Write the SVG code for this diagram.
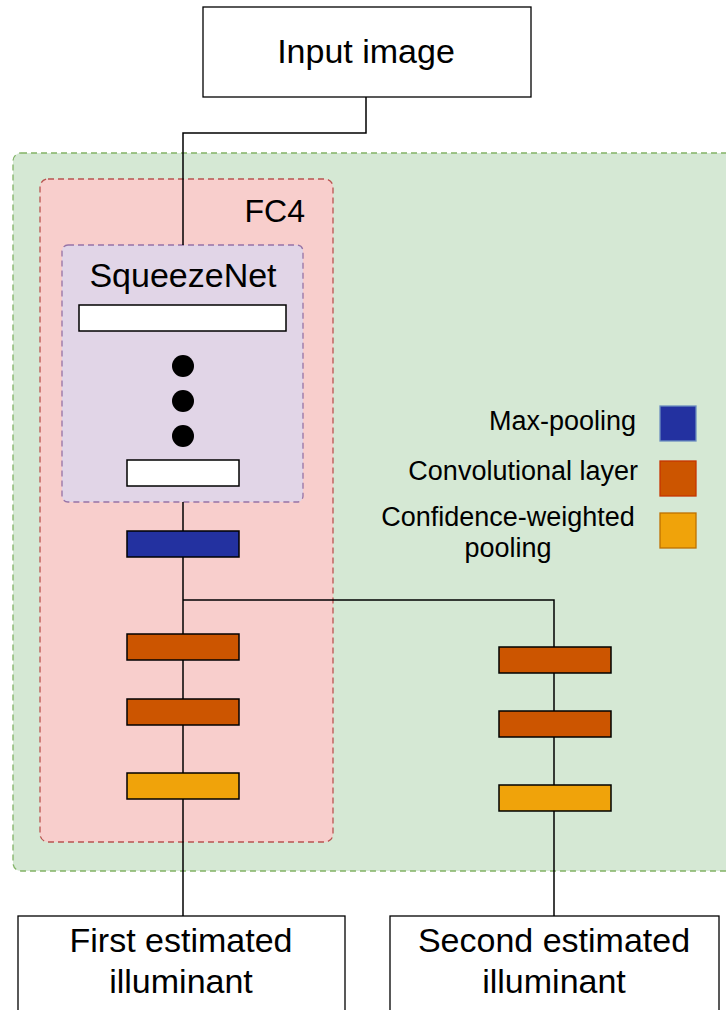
<svg xmlns="http://www.w3.org/2000/svg" width="726" height="1010" viewBox="0 0 726 1010">
<style>
text{font-family:"Liberation Sans",Arial,sans-serif;fill:#000}
.big{font-size:34px;text-anchor:middle}
.leg{font-size:27px}
.box{fill:#fff;stroke:#000;stroke-width:1.3}
.layer{stroke:#000;stroke-width:1.5}
.conn{fill:none;stroke:#000;stroke-width:1.5}
.dash{stroke-width:1.3;stroke-dasharray:6 4}
</style>
<rect width="726" height="1010" fill="#fff"/>
<g id="green-area"><rect x="13" y="153" width="730" height="718" rx="8" fill="#d5e8d4" stroke="#82b366" class="dash"/></g>
<g id="fc4"><rect x="40" y="179" width="293" height="663" rx="8" fill="#f8cecc" stroke="#b85450" class="dash"/><text x="305" y="222" font-size="32" text-anchor="end">FC4</text></g>
<g id="squeezenet"><rect x="62" y="245" width="241" height="257" rx="6" fill="#e1d5e7" stroke="#9673a6" class="dash"/><text x="183" y="287" class="big">SqueezeNet</text></g>
<g id="connectors">
<path class="conn" d="M366 97V133H183V245"/>
<path class="conn" d="M183 502V531"/>
<path class="conn" d="M183 557V634"/>
<path class="conn" d="M183 600H554V647"/>
<path class="conn" d="M183 660V699"/>
<path class="conn" d="M183 725V773"/>
<path class="conn" d="M183 799V916"/>
<path class="conn" d="M554 673V711"/>
<path class="conn" d="M554 737V785"/>
<path class="conn" d="M554 811V916"/>
</g>
<g id="input-image"><rect x="203" y="7" width="328" height="90" class="box"/><text x="366" y="63" class="big">Input image</text></g>
<g id="sq-layer1"><rect x="79" y="305" width="207" height="26" class="layer" fill="#fff"/></g>
<g id="dots"><circle cx="183" cy="366" r="11"/><circle cx="183" cy="401" r="11"/><circle cx="183" cy="436" r="11"/></g>
<g id="sq-layer2"><rect x="127" y="460" width="112" height="26" class="layer" fill="#fff"/></g>
<g id="maxpool"><rect x="127" y="531" width="112" height="26" class="layer" fill="#2331a0"/></g>
<g id="conv1-a"><rect x="127" y="634" width="112" height="26" class="layer" fill="#cc5500"/></g>
<g id="conv2-a"><rect x="127" y="699" width="112" height="26" class="layer" fill="#cc5500"/></g>
<g id="cwp-a"><rect x="127" y="773" width="112" height="26" class="layer" fill="#f0a30a"/></g>
<g id="conv1-b"><rect x="499" y="647" width="112" height="26" class="layer" fill="#cc5500"/></g>
<g id="conv2-b"><rect x="499" y="711" width="112" height="26" class="layer" fill="#cc5500"/></g>
<g id="cwp-b"><rect x="499" y="785" width="112" height="26" class="layer" fill="#f0a30a"/></g>
<g id="legend">
<text x="636" y="430" class="leg" text-anchor="end">Max-pooling</text>
<rect x="660" y="406" width="36" height="35" fill="#2331a0" stroke="#6c8ebf" stroke-width="1.3"/>
<text x="638" y="480" class="leg" text-anchor="end">Convolutional layer</text>
<rect x="660" y="461" width="36" height="35" fill="#cc5500" stroke="#c73500" stroke-width="1.3"/>
<text x="508" y="526" class="leg" text-anchor="middle">Confidence-weighted</text>
<text x="508" y="557" class="leg" text-anchor="middle">pooling</text>
<rect x="660" y="513" width="36" height="35" fill="#f0a30a" stroke="#bd7000" stroke-width="1.3"/>
</g>
<g id="first-illuminant"><rect x="18" y="916" width="327" height="110" class="box"/><text x="181" y="952" class="big">First estimated</text><text x="181" y="993" class="big">illuminant</text></g>
<g id="second-illuminant"><rect x="390" y="916" width="329" height="110" class="box"/><text x="554" y="952" class="big">Second estimated</text><text x="554" y="993" class="big">illuminant</text></g>
</svg>
